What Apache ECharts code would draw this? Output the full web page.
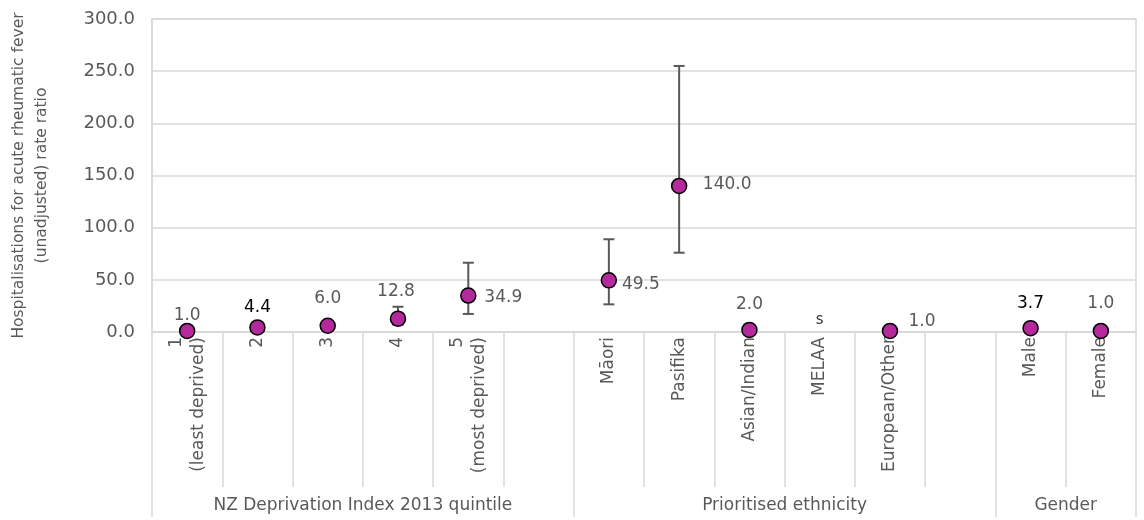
<!DOCTYPE html>
<html>
<head>
<meta charset="utf-8">
<script src="https://cdn.jsdelivr.net/npm/echarts@6/dist/echarts.min.js"></script>
<style>
  html, body { margin: 0; padding: 0; background: #fff; }
  #chart { width: 1144px; height: 520px; }
</style>
</head>
<body>
<div id="chart"></div>
<script>
// Hospitalisations for acute rheumatic fever: unadjusted rate ratios with 95% CI
const categories = [
  '1\n(least deprived)', '2', '3', '4', '5\n(most deprived)', '',
  'Māori', 'Pasifika', 'Asian/Indian', 'MELAA', 'European/Other', '',
  'Male', 'Female'
];
const rateRatio = [1.0, 4.4, 6.0, 12.8, 34.9, null, 49.5, 140.0, 2.0, null, 1.0, null, 3.7, 1.0];
const ciLower   = [null, null, null, 6.9, 17.3, null, 26.5, 76.0, null, null, null, null, null, null];
const ciUpper   = [null, null, null, 24.2, 66.4, null, 88.9, 255.0, null, null, null, null, null, null];
const suppressed = [9]; // MELAA: count too small to publish
const groups = ['NZ Deprivation Index 2013 quintile', 'Prioritised ethnicity', 'Gender'];
const groupSizes = [6, 6, 2];
const yTicks = { min: 0, max: 300, interval: 50 };

// label placement around each marker [dx, dy] and colour
const labelOffsets = [[0,-15],[0,-20],[0,-27],[-2,-27],[35,2],null,[32,4],[48,-1],[0,-25],null,[32,-9],null,[0,-25],[0,-27]];
const labelColors = {1: '#000000', 12: '#000000'};

const FONT = 'DejaVu Sans';
const GREY = '#595959';
const LINE = '#D9D9D9';

// category boundaries, group boundaries and group centres in category units
const catEdges = categories.map((c, i) => i).concat([categories.length]);
const groupEdges = [0];
groupSizes.forEach(s => groupEdges.push(groupEdges[groupEdges.length - 1] + s));
const groupCentres = groups.map((g, i) => (groupEdges[i] + groupEdges[i + 1]) / 2);

const gridBox = { left: 152, right: 8, top: 19, bottom: 188, containLabel: false, outerBoundsMode: 'none' };

const pointData = rateRatio.map((v, i) => {
  if (v == null) return '-';
  const off = labelOffsets[i] || [0, -25];
  return {
    value: v,
    label: { offset: off, color: labelColors[i] || GREY }
  };
});

const errData = [];
ciLower.forEach((lo, i) => {
  if (lo != null && ciUpper[i] != null) errData.push([i, lo, ciUpper[i]]);
});

// helper: a tick-only x axis spanning the categories
function tickAxis(gridIndex, ticks, length, labelValues, labelText) {
  return {
    type: 'value',
    gridIndex,
    min: 0, max: categories.length,
    position: 'bottom',
    axisLine: { show: false },
    splitLine: { show: false },
    axisTick: { show: true, customValues: ticks, length, lineStyle: { color: LINE, width: 1.5 } },
    axisLabel: labelValues ? {
      show: true, customValues: labelValues, margin: 165,
      color: GREY, fontSize: 17, fontFamily: FONT,
      formatter: labelText
    } : { show: false }
  };
}

const chart = echarts.init(document.getElementById('chart'));
chart.setOption({
  animation: false,
  textStyle: { fontFamily: FONT },
  grid: [
    Object.assign({ show: true, borderColor: LINE, borderWidth: 1.5, backgroundColor: 'transparent' }, gridBox),
    Object.assign({ show: false }, gridBox),
    Object.assign({ show: false }, gridBox)
  ],
  xAxis: [
    {
      type: 'category',
      gridIndex: 0,
      data: categories,
      boundaryGap: true,
      axisLine: { lineStyle: { color: LINE, width: 1.5 } },
      axisTick: { show: false },
      axisLabel: {
        interval: 0, rotate: 90, margin: 5,
        color: GREY, fontSize: 17, fontFamily: FONT, lineHeight: 22
      },
      splitLine: { show: false }
    },
    tickAxis(1, catEdges, 155),
    tickAxis(2, groupEdges, 185, groupCentres, v => {
      const k = groupCentres.indexOf(v);
      return k >= 0 ? groups[k] : '';
    })
  ],
  yAxis: [
    {
      type: 'value',
      gridIndex: 0,
      min: yTicks.min, max: yTicks.max, interval: yTicks.interval,
      name: 'Hospitalisations for acute rheumatic fever\n(unadjusted) rate ratio',
      nameLocation: 'middle',
      nameGap: 99,
      nameTextStyle: { color: GREY, fontSize: 15.5, fontFamily: FONT, lineHeight: 23 },
      axisLine: { show: true, lineStyle: { color: LINE, width: 1.5 } },
      axisTick: { show: false },
      axisLabel: { color: GREY, fontSize: 18, fontFamily: FONT, margin: 17, formatter: v => v.toFixed(1) },
      splitLine: { show: true, lineStyle: { color: LINE, width: 1.5 } }
    },
    { type: 'value', gridIndex: 1, min: 0, max: 300, show: false },
    { type: 'value', gridIndex: 2, min: 0, max: 300, show: false }
  ],
  series: [
    {
      type: 'custom',
      name: 'CI',
      xAxisIndex: 0, yAxisIndex: 0,
      z: 2,
      data: errData,
      encode: { x: 0, y: [1, 2] },
      renderItem: (params, api) => {
        const x = api.value(0);
        const lo = api.coord([x, api.value(1)]);
        const hi = api.coord([x, api.value(2)]);
        const cap = 5.5;
        const style = { stroke: GREY, lineWidth: 2, fill: null };
        return {
          type: 'group',
          children: [
            { type: 'line', shape: { x1: lo[0], y1: lo[1], x2: hi[0], y2: hi[1] }, style },
            { type: 'line', shape: { x1: lo[0] - cap, y1: lo[1], x2: lo[0] + cap, y2: lo[1] }, style },
            { type: 'line', shape: { x1: hi[0] - cap, y1: hi[1], x2: hi[0] + cap, y2: hi[1] }, style }
          ]
        };
      }
    },
    {
      type: 'scatter',
      name: 'Rate ratio',
      xAxisIndex: 0, yAxisIndex: 0,
      z: 3,
      symbol: 'circle',
      symbolSize: 15,
      itemStyle: { color: '#B4299C', borderColor: '#000000', borderWidth: 1.5, opacity: 1 },
      label: {
        show: true, position: 'inside',
        fontSize: 17, fontFamily: FONT, color: GREY,
        formatter: p => Number(p.value).toFixed(1)
      },
      emphasis: { disabled: true },
      data: pointData
    },
    {
      type: 'scatter',
      name: 'Suppressed',
      xAxisIndex: 0, yAxisIndex: 0,
      z: 3,
      symbolSize: 0,
      silent: true,
      label: {
        show: true, position: 'inside', offset: [0, -12],
        fontSize: 15, fontFamily: FONT, color: '#000000',
        formatter: 's'
      },
      data: suppressed.map(i => [i, 0])
    }
  ]
});
</script>
</body>
</html>
